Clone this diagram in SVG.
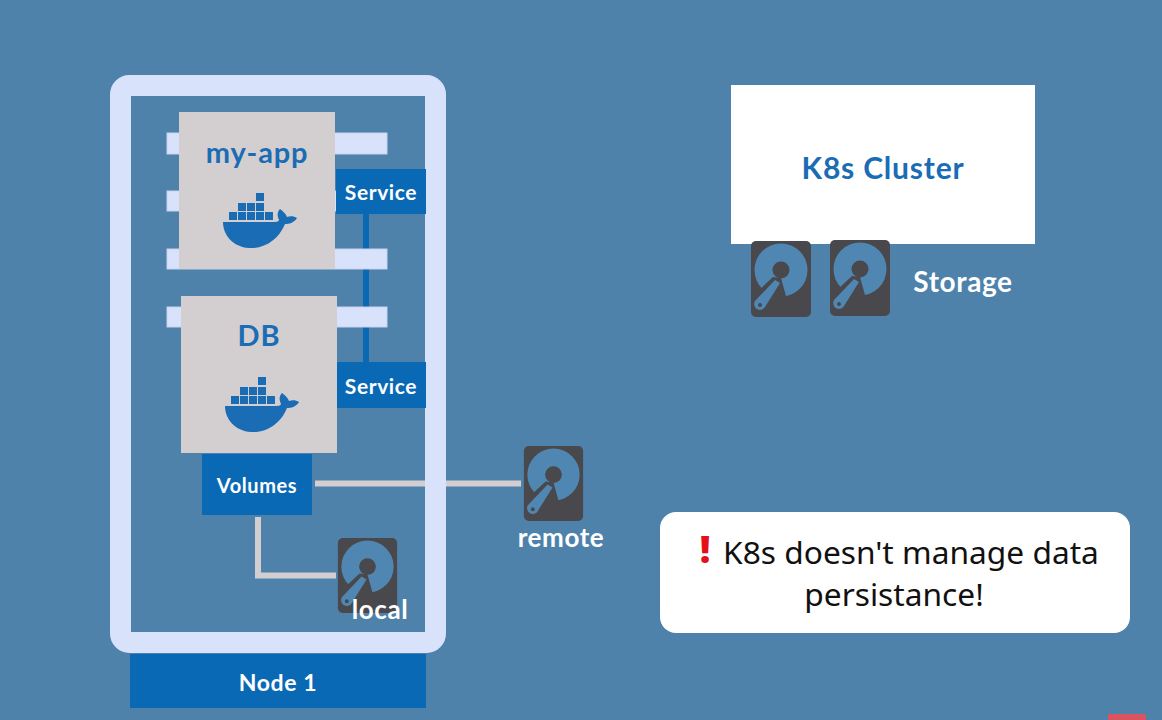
<svg xmlns="http://www.w3.org/2000/svg" width="1162" height="720" viewBox="0 0 1162 720">
<style>
.bar{fill:#d8e2fb;stroke:#c6d2ee;stroke-width:1}
.box{fill:#d3cfd0}
.blue{fill:#0a69b5}
.t{font-family:"Lato","Open Sans",sans-serif;font-weight:700;text-anchor:middle}
.w{fill:#fff;font-size:21px;letter-spacing:.6px}
.b{fill:#1a6cb4;font-size:29px;letter-spacing:.8px}
.c{font-family:"Noto Sans","Open Sans",sans-serif;font-size:31.700px;fill:#111;text-anchor:middle}
.g{fill:none;stroke:#d3cfd0;stroke-width:6}
</style>
<defs>
<symbol id="disk" viewBox="0 0 60 76" overflow="visible">
<rect width="60" height="76" rx="5" fill="#49484c"/>
<circle cx="30" cy="29" r="26.500" fill="#5087b2"/>
<path d="M22 36L7 50V76H38L35 55L30 37z" fill="#49484c"/>
<circle cx="30" cy="29" r="8.500" fill="#49484c"/>
<path d="M24 39L29 42L14 66A5.800 5.800 0 0 1 4 60z" fill="#5087b2"/>
<circle cx="9" cy="64" r="2" fill="#49484c"/>
</symbol>
<symbol id="whale" viewBox="0 0 76 62" overflow="visible">
<g fill="#1a6cb4">
<rect x="33" y="0" width="8" height="8"/>
<rect x="15" y="10" width="8" height="8"/><rect x="24" y="10" width="8" height="8"/><rect x="33" y="10" width="8" height="8"/>
<rect x="6" y="19" width="8" height="8"/><rect x="15" y="19" width="8" height="8"/><rect x="24" y="19" width="8" height="8"/><rect x="33" y="19" width="8" height="8"/><rect x="42" y="19" width="8" height="8"/>
<path d="M0 29H52C54 29 56 28 56 27C54 23 54 19 57 16C60 18 63 21 64 24C67 23 71 23 74 25C71 30 66 31 62 31C56 46 42 56 26 55C10 54 0 42 0 29Z"/>
</g>
</symbol>
</defs>
<rect width="1162" height="720" fill="#4e82ab"/>
<g id="connectors">
<rect x="363" y="212" width="6" height="152" class="blue"/>
<path class="g" d="M315 483.500H521"/>
<path class="g" d="M258 517V575.500H336"/>
</g>
<g id="node-1">
<rect x="120.500" y="85.500" width="315" height="557" rx="9" fill="none" stroke="#d8e2fb" stroke-width="21"/>
<rect x="130" y="654" width="296" height="54" class="blue"/>
<text x="278" y="691" class="t w" style="font-size:23px">Node 1</text>
</g>
<g id="bars">
<rect x="167" y="133" width="220" height="21" class="bar"/>
<rect x="167" y="191" width="170" height="20" class="bar"/>
<rect x="167" y="249" width="220" height="20" class="bar"/>
<rect x="167" y="307" width="220" height="20" class="bar"/>
</g>
<g id="my-app">
<rect x="179" y="112" width="156" height="157" class="box"/>
<text x="257" y="163" class="t b">my-app</text>
<use href="#whale" x="223" y="193" width="76" height="62"/>
</g>
<g id="db">
<rect x="181" y="296" width="156" height="157" class="box"/>
<text x="259" y="346" class="t b">DB</text>
<use href="#whale" x="225" y="377" width="76" height="62"/>
</g>
<g id="service-1">
<rect x="336" y="169" width="90" height="45" class="blue"/>
<text x="381" y="200" class="t w">Service</text>
</g>
<g id="service-2">
<rect x="337" y="362" width="89" height="46" class="blue"/>
<text x="381" y="394" class="t w">Service</text>
</g>
<g id="volumes">
<rect x="202" y="454" width="110" height="61" class="blue"/>
<text x="257" y="493" class="t w" style="font-size:20px">Volumes</text>
</g>
<g id="disk-remote">
<use href="#disk" x="523" y="446" width="61" height="75"/>
<text x="561" y="547" class="t w" style="font-size:26px">remote</text>
</g>
<g id="disk-local">
<use href="#disk" x="337" y="538" width="61" height="75"/>
<text x="380" y="619" class="t w" style="font-size:26px">local</text>
</g>
<g id="k8s-cluster">
<rect x="731" y="85" width="304" height="159" fill="#fff"/>
<text x="883" y="179" class="t b" style="font-size:30px">K8s Cluster</text>
</g>
<g id="storage">
<use href="#disk" x="751" y="241" width="60" height="76"/>
<use href="#disk" x="830" y="240" width="60" height="76"/>
<text x="963" y="292" class="t w" style="font-size:28px">Storage</text>
</g>
<g id="note">
<rect x="660" y="512" width="470" height="121" rx="16" fill="#fff"/>
<text x="705" y="563" font-family="Noto Sans, sans-serif" font-weight="900" font-size="37" fill="#e3101a" text-anchor="middle">!</text>
<text x="911" y="564" class="c">K8s doesn't manage data</text>
<text x="894" y="606" class="c">persistance!</text>
</g>
<rect x="1108" y="714" width="38" height="6" rx="1" fill="#d9545f"/>
</svg>
